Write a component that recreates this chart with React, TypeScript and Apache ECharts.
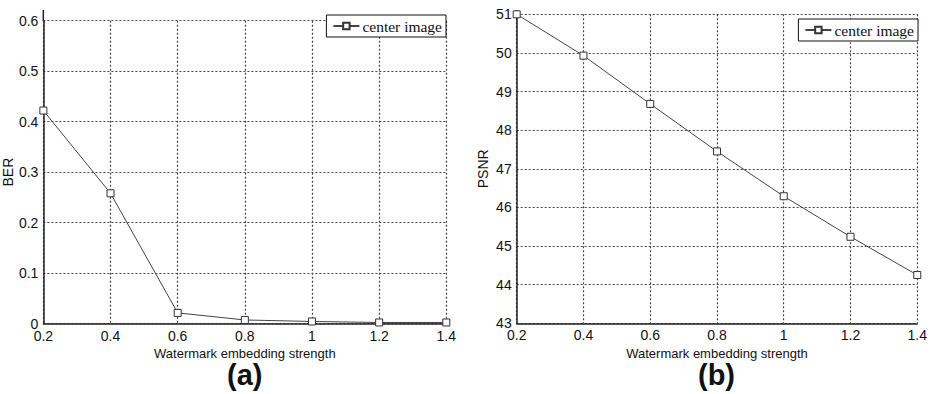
import React, { useEffect, useRef } from "react";
import * as echarts from "echarts";

const strengths = [0.2, 0.4, 0.6, 0.8, 1.0, 1.2, 1.4];
const berValues = [0.422, 0.258, 0.021, 0.007, 0.004, 0.002, 0.002];
const psnrValues = [51.0, 49.93, 48.68, 47.45, 46.29, 45.24, 44.25];
const seriesName = "center image";
const xTitle = "Watermark embedding strength";
const panelLabels = ["(a)", "(b)"];

const sans = "Liberation Sans, Arial, sans-serif";
const serif = "Liberation Serif, Times New Roman, serif";

export default function App() {
  const ref = useRef<HTMLDivElement>(null);
  useEffect(() => {
    if (!ref.current) return;
    const chart = echarts.init(ref.current, null, { renderer: "svg" });
    const gridLine = { show: true, lineStyle: { color: "#444", type: [2, 2], width: 1.2 } };
    const xAxisBase = (gridIndex: number) => ({
      type: "value",
      gridIndex,
      min: 0.2,
      max: 1.4,
      interval: 0.2,
      name: xTitle,
      nameLocation: "middle",
      nameGap: 15,
      nameTextStyle: { fontFamily: sans, fontSize: 13, color: "#111" },
      axisLine: { show: true, lineStyle: { color: "#222", width: 1.5 } },
      axisTick: { show: false },
      axisLabel: { fontFamily: sans, fontSize: 14, color: "#111", margin: 5 },
      splitLine: gridLine,
    });
    const yAxisBase = (gridIndex: number, name: string, min: number, max: number, interval: number) => ({
      type: "value",
      gridIndex,
      min,
      max,
      interval,
      name,
      nameLocation: "middle",
      nameGap: 27,
      nameTextStyle: { fontFamily: sans, fontSize: 14, color: "#111" },
      axisLine: { show: true, lineStyle: { color: "#222", width: 1.5 } },
      axisTick: { show: false },
      axisLabel: { fontFamily: sans, fontSize: 14, color: "#111", margin: 5 },
      splitLine: gridLine,
    });
    const lineSeries = (idx: number, values: number[]) => ({
      type: "line",
      name: seriesName,
      xAxisIndex: idx,
      yAxisIndex: idx,
      data: strengths.map((s, i) => [s, values[i]]),
      symbol: "rect",
      symbolSize: 7,
      showAllSymbol: true,
      lineStyle: { color: "#444", width: 1 },
      itemStyle: { color: "#fff", borderColor: "#333", borderWidth: 1 },
      emphasis: { disabled: true },
    });
    const legendBase = (right: number, top: number) => ({
      right,
      top,
      data: [seriesName],
      orient: "horizontal",
      borderColor: "#111",
      borderWidth: 1,
      backgroundColor: "#fff",
      borderRadius: 0,
      padding: [3, 4, 3, 6],
      itemWidth: 26,
      itemHeight: 8,
      itemGap: 0,
      textStyle: { fontFamily: serif, fontSize: 15.5, color: "#111", padding: [0, 0, 0, -2] },
      selectedMode: false,
    });
    chart.setOption({
      animation: false,
      backgroundColor: "#fff",
      grid: [
        { left: 43.3, top: 20.7, width: 403, height: 302.8 },
        { left: 516.7, top: 14.3, width: 401.6, height: 309 },
      ],
      xAxis: [xAxisBase(0), xAxisBase(1)],
      yAxis: [yAxisBase(0, "BER", 0, 0.6, 0.1), yAxisBase(1, "PSNR", 43, 51, 1)],
      legend: [legendBase(484, 15), legendBase(12, 19)],
      series: [lineSeries(0, berValues), lineSeries(1, psnrValues)],
      graphic: [
        {
          type: "line",
          shape: { x1: 43.3, y1: 10, x2: 43.3, y2: 21 },
          style: { stroke: "#222", lineWidth: 1.5 },
        },
        {
          type: "line",
          shape: { x1: 516.7, y1: 10, x2: 516.7, y2: 15 },
          style: { stroke: "#222", lineWidth: 1.5 },
        },
        {
          type: "text",
          left: 247 - 20,
          top: 360,
          style: { text: panelLabels[0], font: `bold 29px ${sans}`, fill: "#111" },
        },
        {
          type: "text",
          left: 718 - 20,
          top: 360,
          style: { text: panelLabels[1], font: `bold 29px ${sans}`, fill: "#111" },
        },
      ],
    });
    return () => chart.dispose();
  }, []);
  return <div ref={ref} style={{ width: 930, height: 394, position: "absolute", left: 0, top: 0 }} />;
}
